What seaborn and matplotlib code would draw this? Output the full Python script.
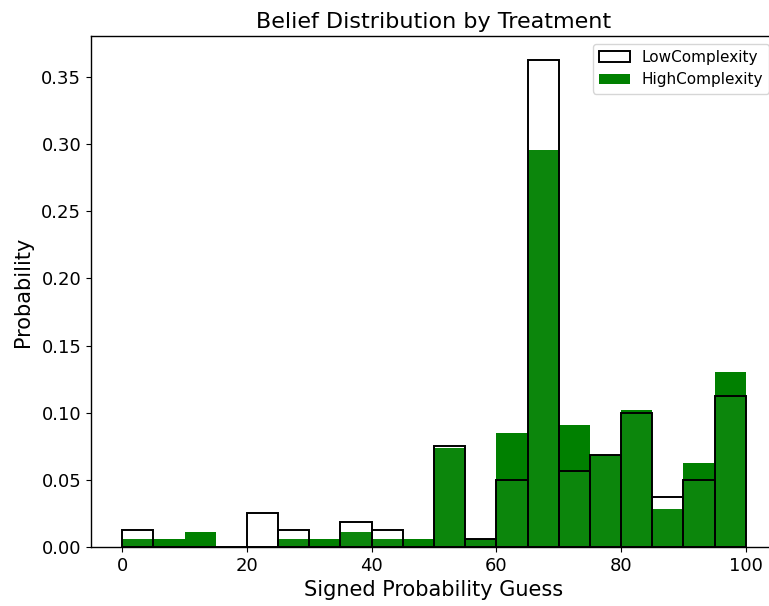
import numpy as np
import matplotlib
matplotlib.use("Agg")
import matplotlib.pyplot as plt
import seaborn as sns

# Bin edges (width 5) and per-bin response counts for each treatment
bin_edges = list(range(0, 105, 5))
bin_centers = [e + 2.5 for e in bin_edges[:-1]]
low_counts = [2, 0, 0, 0, 4, 2, 0, 3, 2, 0, 12, 1, 8, 58, 9, 11, 16, 6, 8, 18]
high_counts = [1, 1, 2, 0, 0, 1, 1, 2, 1, 1, 13, 1, 15, 52, 16, 12, 18, 5, 11, 23]

sns.set_style("ticks")
plt.rcParams.update({
    "font.family": ["DejaVu Sans"],
    "text.color": "black",
    "axes.labelcolor": "black",
    "xtick.color": "black",
    "ytick.color": "black",
    "axes.edgecolor": "black",
    "xtick.major.width": 0.8,
    "ytick.major.width": 0.8,
    "xtick.major.size": 3.5,
    "ytick.major.size": 3.5,
})

fig = plt.figure(figsize=(7.69, 6.06), dpi=100)
ax = fig.add_axes([91 / 769, 59 / 606, 686 / 769, 511 / 606])

sns.histplot(x=bin_centers, weights=high_counts, bins=bin_edges, stat="probability",
             facecolor="green", edgecolor="none", linewidth=0, ax=ax)
n_high = len(ax.patches)
sns.histplot(x=bin_centers, weights=low_counts, bins=bin_edges, stat="probability",
             facecolor=(1, 1, 1, 0.05), edgecolor="black", linewidth=1.4, ax=ax)

high_patch = ax.patches[0]
low_patch = ax.patches[n_high]
ax.legend([low_patch, high_patch], ["LowComplexity", "HighComplexity"],
          loc="upper right", fontsize=11)

ax.set_title("Belief Distribution by Treatment", fontsize=16)
ax.set_xlabel("Signed Probability Guess", fontsize=15)
ax.set_ylabel("Probability", fontsize=15, labelpad=6)
ax.tick_params(labelsize=13)
for s in ax.spines.values():
    s.set_color("black")
    s.set_linewidth(1.0)

fig.savefig("out.png", dpi=100)
